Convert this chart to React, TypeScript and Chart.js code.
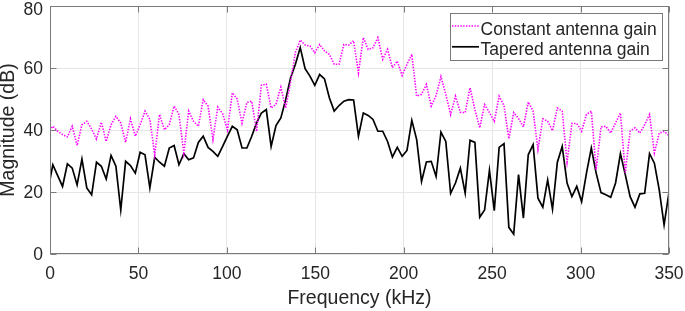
import React, { useEffect, useRef } from 'react';
import { Chart, registerables } from 'chart.js';

Chart.register(...registerables);

// Uniformly sampled spectrum: first sample (just left of the axis) and sample spacing, kHz
const FREQ_START = -1.14;
const FREQ_STEP = 2.743;

const SERIES_LABELS = ['Constant antenna gain', 'Tapered antenna gain'];

const CONSTANT_GAIN = [
  39.2, 41.2, 39.6, 38.5, 37.8, 41.2, 35.0, 41.7, 42.8, 40.3, 37.1, 42.5, 36.3, 41.7, 44.4, 42.3,
  36.0, 43.6, 38.0, 41.7, 46.1, 43.4, 32.0, 45.0, 40.1, 41.7, 47.7, 45.0, 32.6, 46.1, 42.8, 41.2,
  49.8, 47.7, 36.9, 47.4, 45.3, 40.0, 52.0, 50.0, 42.2, 48.9, 49.3, 39.5, 54.5, 54.8, 47.1, 48.3,
  53.8, 47.1, 55.5, 65.0, 69.0, 67.4, 67.1, 64.9, 67.6, 65.5, 64.4, 61.2, 61.2, 67.6, 67.4, 68.8,
  58.4, 69.8, 66.0, 66.5, 69.8, 62.8, 66.0, 60.1, 62.2, 57.6, 61.2, 64.4, 50.9, 51.5, 54.7, 47.7,
  51.1, 57.2, 51.5, 45.0, 50.9, 45.7, 45.6, 53.6, 46.6, 40.7, 48.2, 45.6, 42.8, 50.9, 47.9, 37.2,
  45.6, 43.7, 41.0, 49.0, 46.1, 33.7, 43.6, 42.8, 39.8, 47.1, 46.1, 29.7, 42.1, 42.1, 39.6, 45.0,
  46.1, 27.2, 41.0, 41.2, 39.0, 42.3, 45.5, 26.1, 39.6, 40.7, 39.0, 41.7, 45.0, 32.6, 39.0, 39.6,
  38.2,
];

const TAPERED_GAIN = [
  20.6, 28.8, 25.3, 21.8, 29.1, 27.7, 22.3, 30.6, 21.3, 19.1, 29.6, 28.3, 24.2, 31.8, 28.3, 14.2,
  29.9, 28.5, 26.1, 32.8, 32.0, 21.3, 31.2, 29.6, 28.3, 34.2, 35.0, 28.8, 32.4, 30.4, 31.0, 36.0,
  38.0, 34.4, 33.1, 31.5, 34.7, 38.0, 41.2, 40.1, 34.2, 34.2, 38.0, 42.3, 45.5, 46.6, 34.7, 41.4,
  43.9, 49.8, 56.8, 61.2, 66.6, 59.8, 57.4, 54.4, 57.9, 56.5, 50.4, 46.1, 47.9, 49.3, 49.8, 49.7,
  38.0, 45.5, 44.7, 43.4, 39.6, 39.6, 36.3, 31.3, 34.4, 31.5, 33.4, 43.1, 36.9, 23.4, 29.7, 29.9,
  25.0, 39.3, 36.3, 19.6, 22.9, 27.7, 19.6, 36.7, 36.0, 11.9, 14.2, 27.0, 14.0, 34.4, 35.6, 8.6,
  6.4, 25.6, 11.6, 32.0, 35.3, 18.0, 15.1, 23.9, 14.5, 29.6, 34.7, 22.9, 18.5, 21.8, 16.9, 26.1,
  34.2, 26.1, 19.8, 19.1, 18.3, 22.9, 32.4, 25.6, 18.5, 15.1, 19.4, 19.6, 32.4, 29.3, 20.7, 9.4,
  19.8,
];

const X_TICKS = [0, 50, 100, 150, 200, 250, 300, 350];
const Y_TICKS = [0, 20, 40, 60, 80];
const X_TITLE = 'Frequency (kHz)';
const Y_TITLE = 'Magnitude (dB)';

const FONT = '"Liberation Sans", Arial, Helvetica, sans-serif';
const TEXT_COLOR = '#262626';
const AXIS_COLOR = '#7a7a7a';
const GRID_COLOR = '#e6e6e6';
const COLORS = ['#ff00ff', '#000000'];
const TICK_FONT_SIZE = 17.5;

const toPoints = (vals: number[]) => vals.map((y, i) => ({ x: FREQ_START + i * FREQ_STEP, y }));
const Y_TOP = Y_TICKS[Y_TICKS.length - 1];

const boxPlugin = {
  id: 'matlabBox',
  afterDatasetsDraw(chart: any) {
    const { ctx, chartArea: a, scales } = chart;
    const xs = scales.x;
    const ys = scales.y;
    const L = Math.round(a.left) + 0.5;
    const R = Math.round(a.right) - 0.5;
    const T = Math.round(a.top) + 0.5;
    const B = Math.round(a.bottom) - 0.5;
    ctx.save();
    ctx.strokeStyle = AXIS_COLOR;
    ctx.lineWidth = 1;
    ctx.strokeRect(L, T, R - L, B - T);
    const tl = 6;
    ctx.beginPath();
    X_TICKS.forEach((v) => {
      const p = Math.round(xs.getPixelForValue(v)) + 0.5;
      ctx.moveTo(p, B);
      ctx.lineTo(p, B - tl);
      ctx.moveTo(p, T);
      ctx.lineTo(p, T + tl);
    });
    Y_TICKS.forEach((v) => {
      const p = Math.round(ys.getPixelForValue(v)) + 0.5;
      ctx.moveTo(L, p);
      ctx.lineTo(L + tl, p);
      ctx.moveTo(R, p);
      ctx.lineTo(R - tl, p);
    });
    ctx.stroke();

    // top y tick label, nudged down so it stays inside the figure (as MATLAB does)
    ctx.font = `${TICK_FONT_SIZE}px ${FONT}`;
    ctx.fillStyle = TEXT_COLOR;
    ctx.textAlign = 'right';
    ctx.textBaseline = 'middle';
    ctx.fillText(String(Y_TOP), a.left - 7, ys.getPixelForValue(Y_TOP) + 4.5);

    // legend box (north-east, inside axes)
    const bx = 450.5;
    const by = 13.5;
    const bw = 212;
    const bh = 47;
    ctx.fillStyle = '#ffffff';
    ctx.fillRect(bx, by, bw, bh);
    ctx.strokeStyle = AXIS_COLOR;
    ctx.strokeRect(bx, by, bw, bh);
    ctx.font = `${TICK_FONT_SIZE}px ${FONT}`;
    ctx.textBaseline = 'alphabetic';
    ctx.textAlign = 'left';
    chart.data.datasets.forEach((ds: any, i: number) => {
      const ly = 26 + i * 20.8;
      ctx.beginPath();
      ctx.strokeStyle = ds.borderColor;
      ctx.lineWidth = ds.borderWidth;
      ctx.setLineDash(ds.borderDash || []);
      ctx.moveTo(452, ly);
      ctx.lineTo(479, ly);
      ctx.stroke();
      ctx.setLineDash([]);
      ctx.fillStyle = TEXT_COLOR;
      ctx.fillText(ds.label, 480.5, ly + 8.5);
    });
    ctx.restore();
  },
};

export default function App() {
  const ref = useRef<HTMLCanvasElement | null>(null);

  useEffect(() => {
    if (!ref.current) return;
    const chart = new Chart(ref.current, {
      type: 'line',
      data: {
        datasets: [
          {
            label: SERIES_LABELS[0],
            data: toPoints(CONSTANT_GAIN),
            borderColor: COLORS[0],
            borderWidth: 1.6,
            borderDash: [1.4, 1.4],
            pointRadius: 0,
            tension: 0,
            fill: false,
          },
          {
            label: SERIES_LABELS[1],
            data: toPoints(TAPERED_GAIN),
            borderColor: COLORS[1],
            borderWidth: 1.7,
            pointRadius: 0,
            tension: 0,
            fill: false,
          },
        ],
      },
      options: {
        animation: false,
        responsive: false,
        events: [],
        layout: { padding: { top: 6, right: 16, left: 0, bottom: 0 } },
        plugins: { legend: { display: false }, tooltip: { enabled: false } },
        scales: {
          x: {
            type: 'linear',
            min: 0,
            max: 350,
            afterBuildTicks: (s: any) => {
              s.ticks = X_TICKS.map((v) => ({ value: v }));
            },
            afterFit: (s: any) => {
              s.height = 57;
              s.paddingLeft = 0;
              s.paddingRight = 0;
            },
            grid: { color: GRID_COLOR, drawTicks: false },
            border: { display: false },
            ticks: {
              padding: 10,
              color: TEXT_COLOR,
              font: { family: FONT, size: TICK_FONT_SIZE },
              maxRotation: 0,
              autoSkip: false,
            },
            title: {
              display: true,
              text: X_TITLE,
              color: TEXT_COLOR,
              font: { family: FONT, size: 19.5, lineHeight: 1.2 },
              padding: { top: 0, bottom: 1 },
            },
          },
          y: {
            type: 'linear',
            min: 0,
            max: 80,
            afterBuildTicks: (s: any) => {
              s.ticks = Y_TICKS.map((v) => ({ value: v }));
            },
            afterFit: (s: any) => {
              s.width = 50;
              s.paddingTop = 0;
              s.paddingBottom = 0;
            },
            grid: { color: GRID_COLOR, drawTicks: false },
            border: { display: false },
            ticks: {
              padding: 7,
              labelOffset: 1.3,
              color: TEXT_COLOR,
              font: { family: FONT, size: TICK_FONT_SIZE },
              autoSkip: false,
              callback: (v: any) => (Number(v) === Y_TOP ? '' : String(v)),
            },
            title: {
              display: true,
              text: Y_TITLE,
              color: TEXT_COLOR,
              font: { family: FONT, size: 19.5, lineHeight: 0.9 },
              padding: 0,
            },
          },
        },
      },
      plugins: [boxPlugin],
    });
    return () => chart.destroy();
  }, []);

  return (
    <div style={{ position: 'fixed', left: 0, top: 0, width: 685, height: 311, background: '#fff' }}>
      <canvas ref={ref} width={685} height={311} style={{ display: 'block' }} />
    </div>
  );
}
